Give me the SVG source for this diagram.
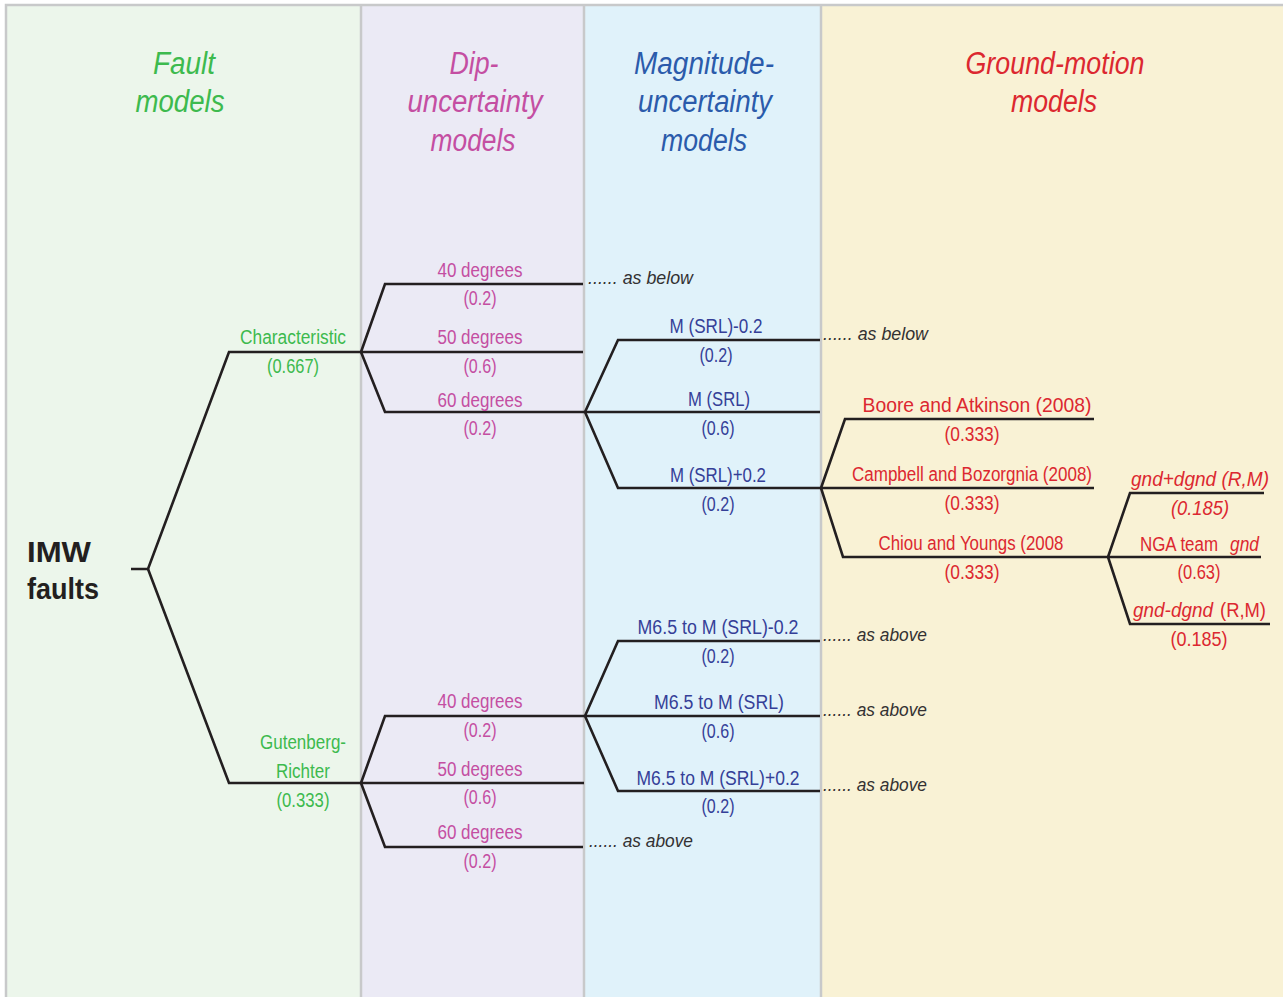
<svg xmlns="http://www.w3.org/2000/svg" width="1283" height="997" viewBox="0 0 1283 997">
<style>
text{font-family:"Liberation Sans",Arial,sans-serif}
.hd{font-style:italic;font-size:31px;text-anchor:middle}
.lb{font-size:20px;text-anchor:middle}
.ls{font-size:20px}
.as{font-size:19px;font-style:italic;fill:#333132}
.g{fill:#3dba4e}.p{fill:#c44ea2}.bh{fill:#2b5bab}.b{fill:#353f98}.r{fill:#dc2830}
.it{font-style:italic}
.ln{fill:none;stroke:#231f20;stroke-width:2.6;stroke-linejoin:miter}
</style>
<rect x="0" y="0" width="1283" height="997" fill="#ffffff"/>
<g id="columns">
<rect x="5" y="4" width="356" height="995" fill="#ecf6eb"/>
<rect x="361" y="4" width="223" height="995" fill="#ebeaf5"/>
<rect x="584" y="4" width="237" height="995" fill="#e0f2fa"/>
<rect x="821" y="4" width="464" height="995" fill="#f9f2d5"/>
<path d="M6,1000 V5 H1285 M361,5 V1000 M584,5 V1000 M821,5 V1000" fill="none" stroke="#c8c9ca" stroke-width="2.5"/>
</g>
<g id="headers">
<text class="hd g" x="184" y="74" textLength="62" lengthAdjust="spacingAndGlyphs">Fault</text>
<text class="hd g" x="180" y="112" textLength="89" lengthAdjust="spacingAndGlyphs">models</text>
<text class="hd p" x="474" y="74" textLength="49" lengthAdjust="spacingAndGlyphs">Dip-</text>
<text class="hd p" x="475" y="112" textLength="135" lengthAdjust="spacingAndGlyphs">uncertainty</text>
<text class="hd p" x="473" y="151" textLength="85" lengthAdjust="spacingAndGlyphs">models</text>
<text class="hd bh" x="704" y="74" textLength="140" lengthAdjust="spacingAndGlyphs">Magnitude-</text>
<text class="hd bh" x="705" y="112" textLength="134" lengthAdjust="spacingAndGlyphs">uncertainty</text>
<text class="hd bh" x="704" y="151" textLength="86" lengthAdjust="spacingAndGlyphs">models</text>
<text class="hd r" x="1055" y="74" textLength="179" lengthAdjust="spacingAndGlyphs">Ground-motion</text>
<text class="hd r" x="1054" y="112" textLength="86" lengthAdjust="spacingAndGlyphs">models</text>
</g>
<g id="connectors" class="ln">
<path d="M131,569 H148 L229,352 H361"/>
<path d="M148,569 L229,783 H361"/>
<path d="M361,352 L385,284 H583"/>
<path d="M361,352 H583"/>
<path d="M361,352 L385,412 H585"/>
<path d="M585,412 L618,340 H820"/>
<path d="M585,412 H820"/>
<path d="M585,412 L618,488 H821"/>
<path d="M821,488 L845,419 H1094"/>
<path d="M821,488 H1094"/>
<path d="M821,488 L843,557 H1108"/>
<path d="M1108,557 L1130,493 H1264"/>
<path d="M1108,557 H1261"/>
<path d="M1108,557 L1130,624 H1270"/>
<path d="M361,783 L385,716 H585"/>
<path d="M361,783 H584"/>
<path d="M361,783 L385,847 H583"/>
<path d="M585,716 L618,641 H820"/>
<path d="M585,716 H820"/>
<path d="M585,716 L618,791 H820"/>
</g>
<g id="root">
<text x="27" y="562" font-weight="bold" font-size="30" fill="#231f20" textLength="64" lengthAdjust="spacingAndGlyphs">IMW</text>
<text x="27" y="599" font-weight="bold" font-size="30" fill="#231f20" textLength="72" lengthAdjust="spacingAndGlyphs">faults</text>
</g>
<g id="fault-characteristic">
<text class="lb g" x="293" y="344" textLength="106" lengthAdjust="spacingAndGlyphs">Characteristic</text>
<text class="lb g" x="293" y="373" textLength="52" lengthAdjust="spacingAndGlyphs">(0.667)</text>
</g>
<g id="fault-gr">
<text class="lb g" x="303" y="749" textLength="86" lengthAdjust="spacingAndGlyphs">Gutenberg-</text>
<text class="lb g" x="303" y="778" textLength="54" lengthAdjust="spacingAndGlyphs">Richter</text>
<text class="lb g" x="303" y="807" textLength="53" lengthAdjust="spacingAndGlyphs">(0.333)</text>
</g>
<g id="dip-upper">
<text class="lb p" x="480" y="277" textLength="85" lengthAdjust="spacingAndGlyphs">40 degrees</text>
<text class="lb p" x="480" y="305" textLength="33" lengthAdjust="spacingAndGlyphs">(0.2)</text>
<text class="lb p" x="480" y="344" textLength="85" lengthAdjust="spacingAndGlyphs">50 degrees</text>
<text class="lb p" x="480" y="373" textLength="33" lengthAdjust="spacingAndGlyphs">(0.6)</text>
<text class="lb p" x="480" y="407" textLength="85" lengthAdjust="spacingAndGlyphs">60 degrees</text>
<text class="lb p" x="480" y="435" textLength="33" lengthAdjust="spacingAndGlyphs">(0.2)</text>
</g>
<g id="dip-lower">
<text class="lb p" x="480" y="708" textLength="85" lengthAdjust="spacingAndGlyphs">40 degrees</text>
<text class="lb p" x="480" y="737" textLength="33" lengthAdjust="spacingAndGlyphs">(0.2)</text>
<text class="lb p" x="480" y="776" textLength="85" lengthAdjust="spacingAndGlyphs">50 degrees</text>
<text class="lb p" x="480" y="804" textLength="33" lengthAdjust="spacingAndGlyphs">(0.6)</text>
<text class="lb p" x="480" y="839" textLength="85" lengthAdjust="spacingAndGlyphs">60 degrees</text>
<text class="lb p" x="480" y="868" textLength="33" lengthAdjust="spacingAndGlyphs">(0.2)</text>
</g>
<g id="mag-upper">
<text class="lb b" x="716" y="333" textLength="93" lengthAdjust="spacingAndGlyphs">M (SRL)-0.2</text>
<text class="lb b" x="716" y="362" textLength="33" lengthAdjust="spacingAndGlyphs">(0.2)</text>
<text class="lb b" x="719" y="406" textLength="62" lengthAdjust="spacingAndGlyphs">M (SRL)</text>
<text class="lb b" x="718" y="435" textLength="33" lengthAdjust="spacingAndGlyphs">(0.6)</text>
<text class="lb b" x="718" y="482" textLength="96" lengthAdjust="spacingAndGlyphs">M (SRL)+0.2</text>
<text class="lb b" x="718" y="511" textLength="33" lengthAdjust="spacingAndGlyphs">(0.2)</text>
</g>
<g id="mag-lower">
<text class="lb b" x="718" y="634" textLength="161" lengthAdjust="spacingAndGlyphs">M6.5 to M (SRL)-0.2</text>
<text class="lb b" x="718" y="663" textLength="33" lengthAdjust="spacingAndGlyphs">(0.2)</text>
<text class="lb b" x="719" y="709" textLength="130" lengthAdjust="spacingAndGlyphs">M6.5 to M (SRL)</text>
<text class="lb b" x="718" y="738" textLength="33" lengthAdjust="spacingAndGlyphs">(0.6)</text>
<text class="lb b" x="718" y="785" textLength="163" lengthAdjust="spacingAndGlyphs">M6.5 to M (SRL)+0.2</text>
<text class="lb b" x="718" y="813" textLength="33" lengthAdjust="spacingAndGlyphs">(0.2)</text>
</g>
<g id="gm">
<text class="lb r" x="977" y="412" textLength="229" lengthAdjust="spacingAndGlyphs">Boore and Atkinson (2008)</text>
<text class="lb r" x="972" y="441" textLength="55" lengthAdjust="spacingAndGlyphs">(0.333)</text>
<text class="lb r" x="972" y="481" textLength="240" lengthAdjust="spacingAndGlyphs">Campbell and Bozorgnia (2008)</text>
<text class="lb r" x="972" y="510" textLength="55" lengthAdjust="spacingAndGlyphs">(0.333)</text>
<text class="lb r" x="971" y="550" textLength="185" lengthAdjust="spacingAndGlyphs">Chiou and Youngs (2008</text>
<text class="lb r" x="972" y="579" textLength="55" lengthAdjust="spacingAndGlyphs">(0.333)</text>
</g>
<g id="gnd">
<text class="lb r it" x="1200" y="486" textLength="138" lengthAdjust="spacingAndGlyphs">gnd+dgnd (R,M)</text>
<text class="lb r it" x="1200" y="515" textLength="58" lengthAdjust="spacingAndGlyphs">(0.185)</text>
<text class="ls r" x="1140" y="551" textLength="78" lengthAdjust="spacingAndGlyphs">NGA team</text>
<text class="ls r it" x="1230" y="551" textLength="29" lengthAdjust="spacingAndGlyphs">gnd</text>
<text class="lb r" x="1199" y="579" textLength="43" lengthAdjust="spacingAndGlyphs">(0.63)</text>
<text class="ls r it" x="1133" y="617" textLength="80" lengthAdjust="spacingAndGlyphs">gnd-dgnd</text>
<text class="ls r" x="1220" y="617" textLength="46" lengthAdjust="spacingAndGlyphs">(R,M)</text>
<text class="lb r" x="1199" y="646" textLength="57" lengthAdjust="spacingAndGlyphs">(0.185)</text>
</g>
<g id="refs">
<text class="as" x="588" y="284" textLength="105" lengthAdjust="spacingAndGlyphs">...... as below</text>
<text class="as" x="823" y="340" textLength="105" lengthAdjust="spacingAndGlyphs">...... as below</text>
<text class="as" x="823" y="641" textLength="104" lengthAdjust="spacingAndGlyphs">...... as above</text>
<text class="as" x="823" y="716" textLength="104" lengthAdjust="spacingAndGlyphs">...... as above</text>
<text class="as" x="823" y="791" textLength="104" lengthAdjust="spacingAndGlyphs">...... as above</text>
<text class="as" x="589" y="847" textLength="104" lengthAdjust="spacingAndGlyphs">...... as above</text>
</g>
</svg>
